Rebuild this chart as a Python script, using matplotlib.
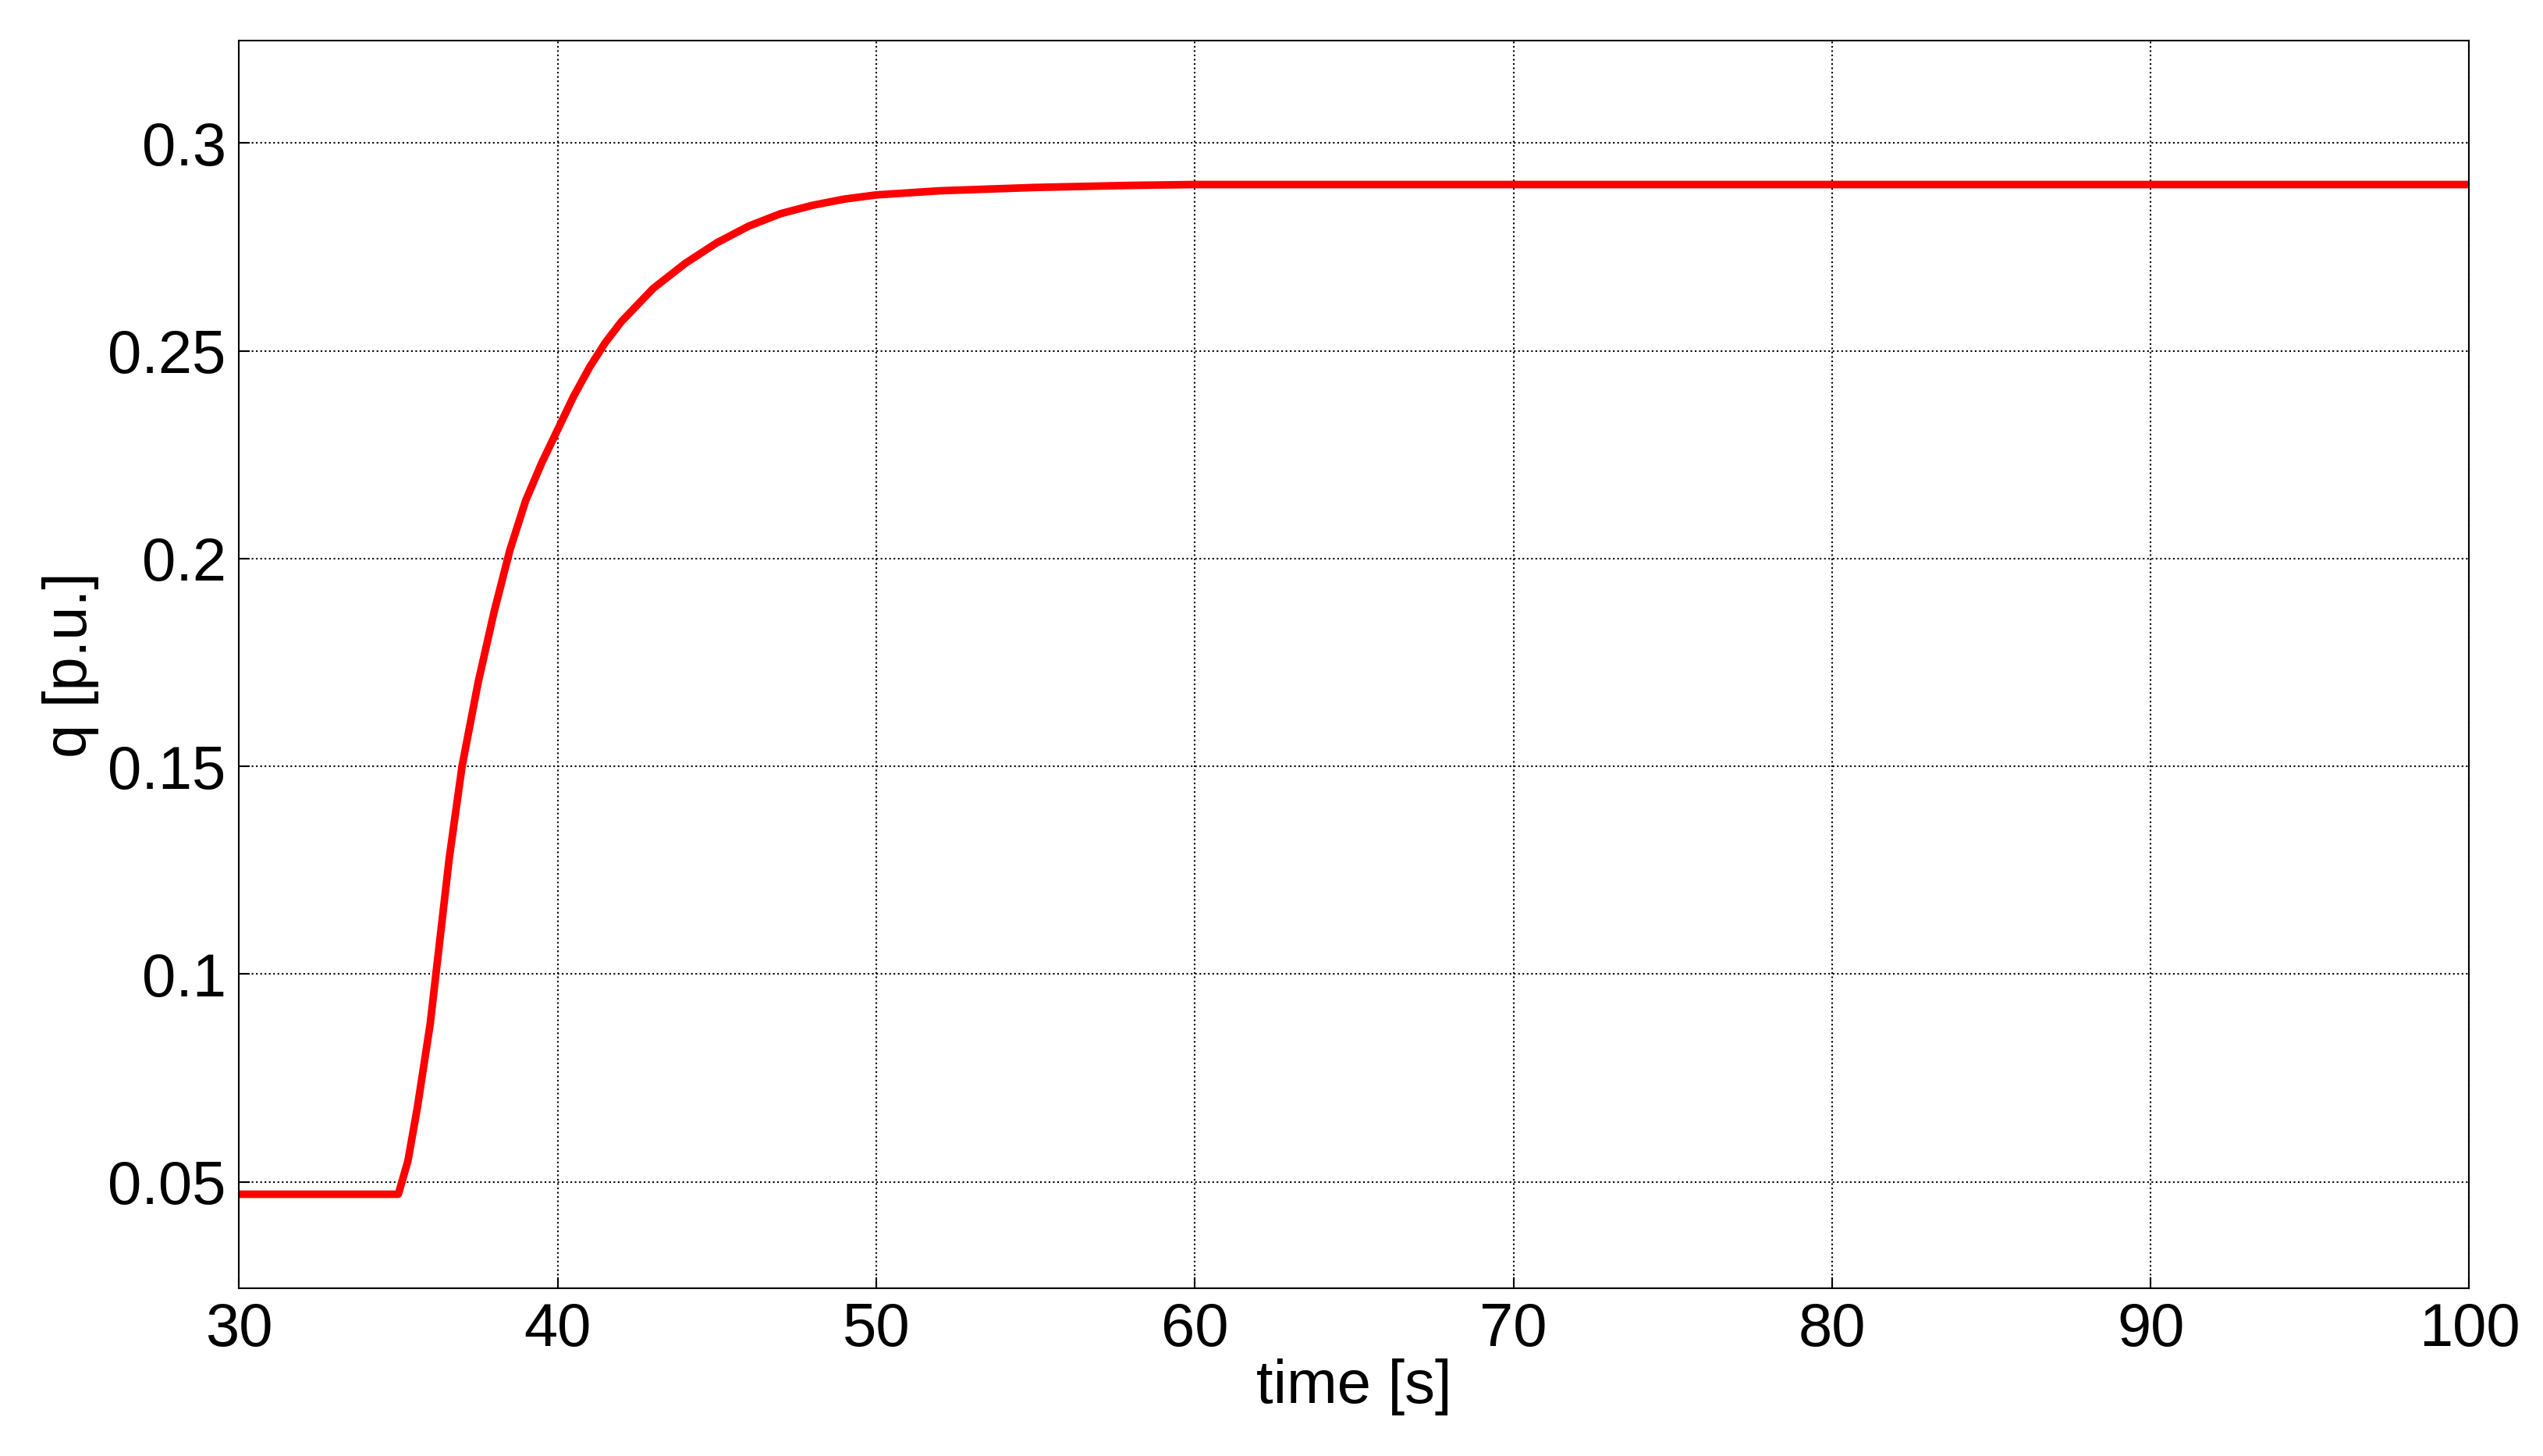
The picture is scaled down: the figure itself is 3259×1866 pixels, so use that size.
import numpy as np
import matplotlib
matplotlib.use('Agg')
from matplotlib import pyplot as plt

# valores
time = [30, 35, 35.3, 35.6, 36, 36.3, 36.6, 37, 37.5, 38, 38.5, 39, 39.5, 40, 40.5, 41, 41.5, 42,
        43, 44, 45, 46, 47, 48, 49, 50, 52, 55, 58, 60, 70, 80, 90, 100]
q = [0.047, 0.047, 0.055, 0.068, 0.088, 0.108, 0.128, 0.150, 0.170, 0.187, 0.202, 0.214, 0.223,
     0.231, 0.239, 0.246, 0.252, 0.257, 0.265, 0.271, 0.276, 0.280, 0.283, 0.285, 0.2865, 0.2875,
     0.2885, 0.2893, 0.2898, 0.290, 0.290, 0.290, 0.290, 0.290]

plt.rcParams['font.family'] = ['Liberation Sans', 'DejaVu Sans']

fig = plt.figure(figsize=(32.59, 18.66), dpi=100)
ax = fig.add_axes([0.094, 0.115, 0.877, 0.857])
ax.plot(time, q, color='red', lw=7, solid_capstyle='round', solid_joinstyle='round')
ax.set_xlim(30, 100)
ax.set_ylim(0.0243, 0.3246)
ax.set_xticks(np.arange(30, 101, 10))
ax.set_yticks([0.05, 0.1, 0.15, 0.2, 0.25, 0.3])
ax.set_yticklabels(['0.05', '0.1', '0.15', '0.2', '0.25', '0.3'])
ax.grid(True, linestyle=':', color='black', lw=1.5)
ax.tick_params(labelsize=56, direction='in', length=10, width=1.5, pad=12)
for s in ax.spines.values():
    s.set_linewidth(1.5)
ax.set_xlabel('time [s]', fontsize=56, labelpad=0)
ax.set_ylabel('q [p.u.]', fontsize=56, labelpad=8)
fig.savefig('out.png', dpi=100)
